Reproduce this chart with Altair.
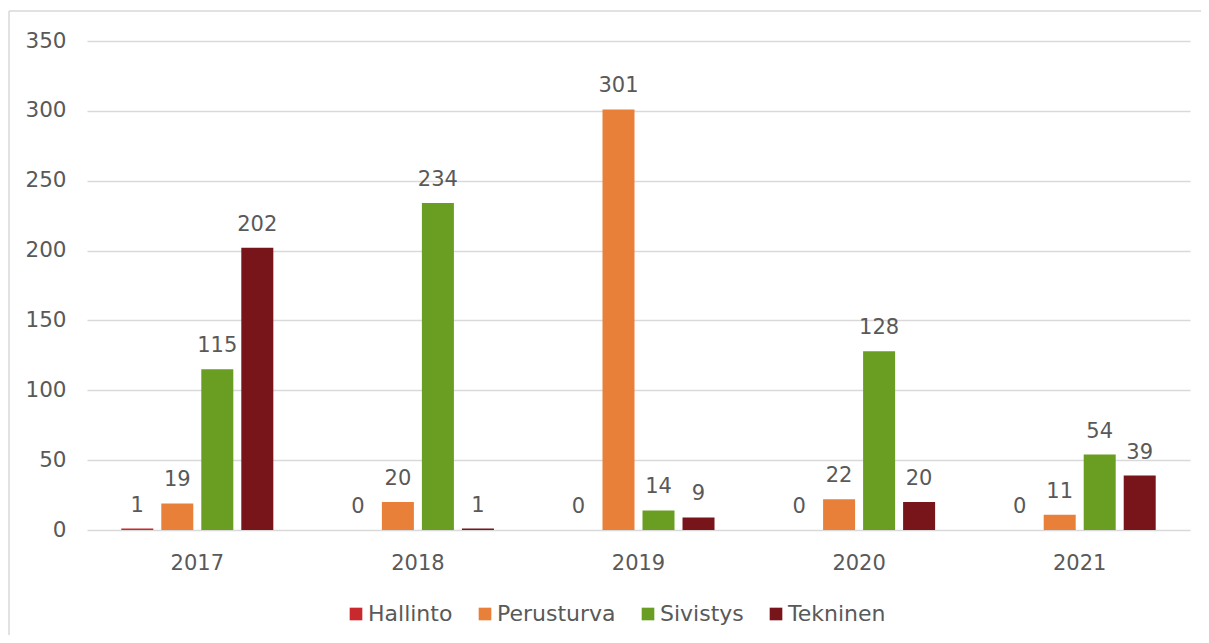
import altair as alt
import pandas as pd

years = ["2017", "2018", "2019", "2020", "2021"]
series = ["Hallinto", "Perusturva", "Sivistys", "Tekninen"]
hallinto = [1, 0, 0, 0, 0]
perusturva = [19, 20, 301, 22, 11]
sivistys = [115, 234, 14, 128, 54]
tekninen = [202, 1, 9, 20, 39]
colors = ["#C9282D", "#E8803A", "#6A9E23", "#78151A"]

rows = []
for name, vals in zip(series, [hallinto, perusturva, sivistys, tekninen]):
    for y, v in zip(years, vals):
        rows.append({"year": y, "series": name, "value": v})
df = pd.DataFrame(rows)

W, H = 1103, 489
FONT = "DejaVu Sans"
TXT = "#595959"

x = alt.X("year:N", sort=years, title=None,
          scale=alt.Scale(paddingInner=0, paddingOuter=0),
          axis=alt.Axis(labelAngle=0, domain=False, ticks=False, labelPadding=22,
                        labelFontSize=21, labelColor=TXT, labelFont=FONT, grid=False))
xo = alt.XOffset("series:N", sort=series,
                 scale=alt.Scale(paddingInner=0.2, paddingOuter=0.857))
y = alt.Y("value:Q", title=None,
          scale=alt.Scale(domain=[0, 350], nice=False),
          axis=alt.Axis(values=[0, 50, 100, 150, 200, 250, 300, 350], domain=False, ticks=False,
                        labelPadding=21, labelFontSize=21.5, labelColor=TXT, labelFont=FONT,
                        gridColor="#D9D9D9", gridWidth=1.3))
color = alt.Color("series:N", sort=series,
                  scale=alt.Scale(domain=series, range=colors),
                  legend=alt.Legend(title=None, orient="none", direction="horizontal",
                                    legendX=258, legendY=562, symbolType="square",
                                    symbolSize=160, symbolStrokeWidth=0, labelOffset=1,
                                    columnPadding=21, labelFontSize=22, labelColor=TXT,
                                    labelFont=FONT))

bars = alt.Chart(df).mark_bar().encode(x=x, xOffset=xo, y=y, color=color)
labels = alt.Chart(df).mark_text(dy=-17, baseline="alphabetic", fontSize=21,
                                 font=FONT, color=TXT).encode(
    x=x, xOffset=xo, y=y, text=alt.Text("value:Q"))

one = pd.DataFrame({"a": [0]})
border_top = alt.Chart(one).mark_rule(stroke="#D9D9D9", strokeWidth=1.5).encode(
    x=alt.value(-78), x2=alt.value(W + 120), y=alt.value(-30))
border_left = alt.Chart(one).mark_rule(stroke="#D9D9D9", strokeWidth=1.5).encode(
    x=alt.value(-78), y=alt.value(-30), y2=alt.value(H + 160))

chart = alt.layer(border_top, border_left, bars, labels).properties(
    width=W, height=H,
    autosize=alt.AutoSizeParams(type="none"),
    padding={"left": 79, "top": 33, "right": 11, "bottom": 105},
).configure_view(stroke=None)

chart.save("out.html", embed_options={"renderer": "svg", "actions": False})
